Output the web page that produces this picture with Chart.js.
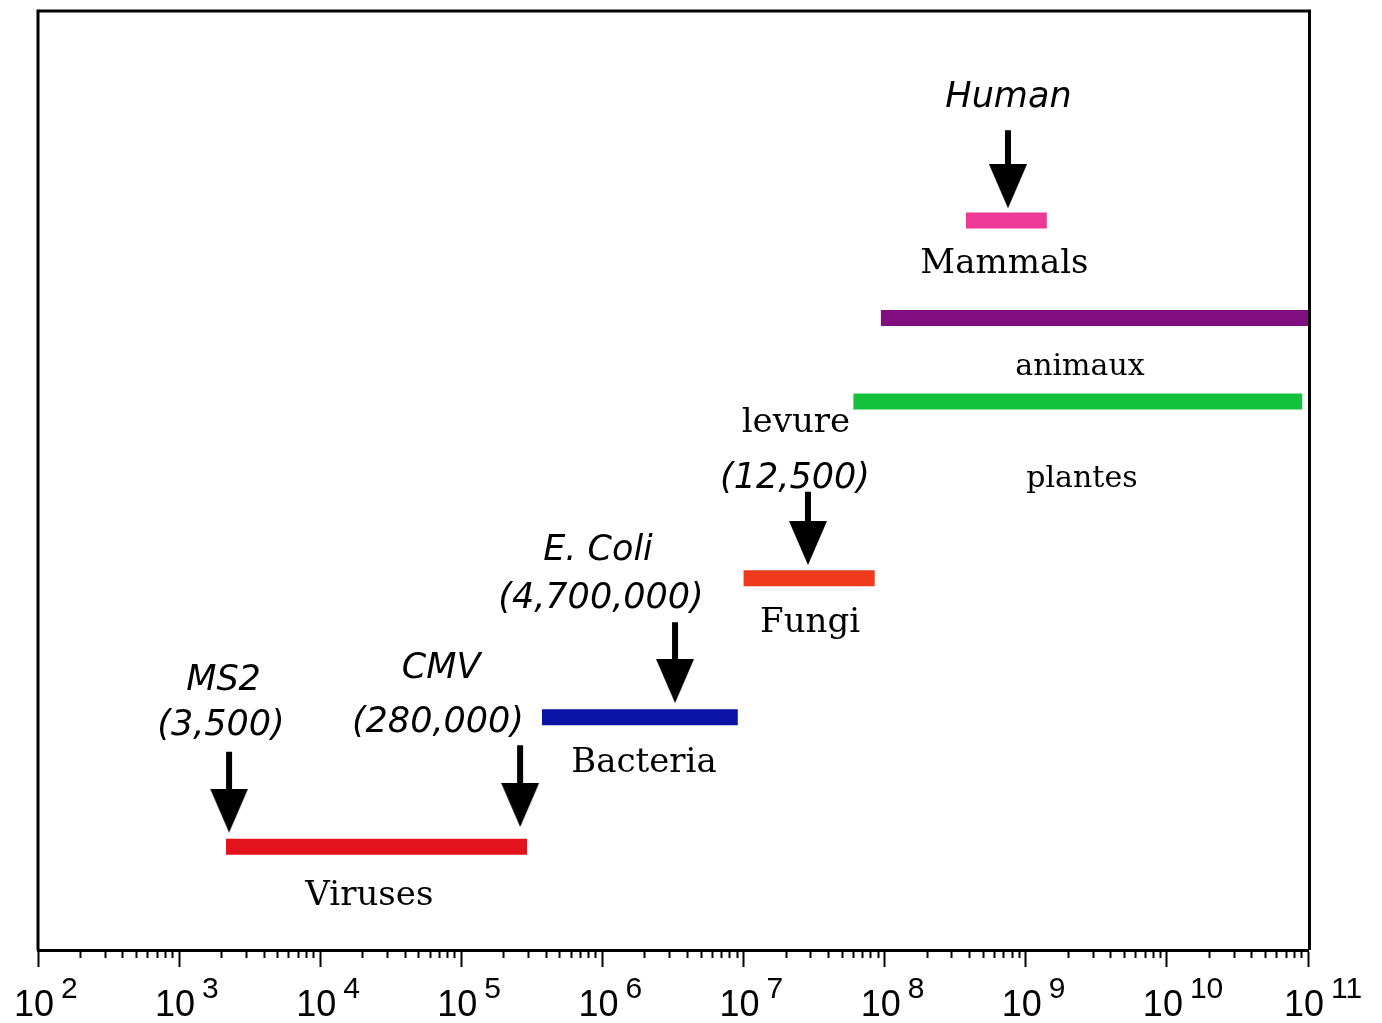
<!DOCTYPE html>
<html>
<head>
<meta charset="utf-8">
<script src="https://cdn.jsdelivr.net/npm/chart.js@4.4.1/dist/chart.umd.min.js"></script>
<style>
html,body{margin:0;padding:0;background:#ffffff;overflow:hidden}
#wrap{position:relative;width:1382px;height:1023px;background:#ffffff}
</style>
</head>
<body>
<div id="wrap"><canvas id="chart"></canvas></div>
<script>
// ---- data (genome size ranges, log scale) ----
const categories  = ['Viruses', 'Bacteria', 'Fungi', 'plantes', 'animaux', 'Mammals'];
const rangeStart  = [2150, 373000, 1.0e7, 6.0e7, 9.4e7, 3.77e8];
const rangeEnd    = [292000, 9.1e6, 8.5e7, 9.1e10, 1.0e11, 1.41e9];
const rowLevel    = [11.0, 24.8, 39.6, 58.4, 67.3, 77.7];
const barColors   = ['#e4121c', '#0b12a6', '#ef3a1e', '#14c13d', '#800e80', '#ee3a96'];

// arrows pointing at particular organisms
const arrowNames  = ['MS2', 'CMV', 'E. Coli', 'levure', 'Human'];
const arrowValue  = [2260, 261000, 3.27e6, 2.86e7, 7.48e8];
const arrowTop    = [21.1, 21.8, 34.9, 48.8, 87.3];
const arrowTip    = [12.5, 13.1, 26.3, 41.0, 79.0];

// text annotations
const labelTexts  = ['MS2', '(3,500)', 'CMV', '(280,000)', 'E. Coli', '(4,700,000)', 'levure', '(12,500)', 'Human',
                     'Viruses', 'Bacteria', 'Fungi', 'plantes', 'animaux', 'Mammals'];
const labelX      = [2064, 1981, 71800, 68300, 930000, 977000, 2.35e7, 2.315e7, 7.54e8,
                     22300, 1.97e6, 2.96e7, 2.5e9, 2.42e9, 7.06e8];
const labelY      = [27.7, 22.9, 29.0, 23.2, 41.5, 36.4, 55.2, 49.2, 89.8,
                     4.8, 19.0, 33.9, 49.3, 61.2, 72.1];
const labelKind   = ['organism', 'size', 'organism', 'size', 'organism', 'size', 'group', 'size', 'organism',
                     'group', 'group', 'group', 'kingdom', 'kingdom', 'group'];

// axis ticks
const decadeExponents = [2, 3, 4, 5, 6, 7, 8, 9, 10, 11];
const minorMultipliers = [2, 3, 4, 5, 6, 7, 8, 9];

// ---- styles ----
const kindFont = {
  organism: 'italic 35px "DejaVu Sans"',
  size: 'italic 35px "DejaVu Sans"',
  group: '34px "DejaVu Serif"',
  kingdom: '30px "DejaVu Serif"'
};
const BAR_WIDTH = 16;
const SHAFT_WIDTH = 6;
const SHAFT_STOP = 2.5;

const tickValues = [];
decadeExponents.forEach(function (e, i) {
  tickValues.push(Math.pow(10, e));
  if (i < decadeExponents.length - 1) {
    minorMultipliers.forEach(function (m) { tickValues.push(m * Math.pow(10, e)); });
  }
});
function isDecade(v) {
  const l = Math.log10(v);
  return Math.abs(l - Math.round(l)) < 1e-9;
}

// arrow head image used as point style (tip at image centre)
const head = document.createElement('canvas');
head.width = 38; head.height = 88;
(function () {
  const g = head.getContext('2d');
  g.fillStyle = '#000';
  g.beginPath();
  g.moveTo(0, 0); g.lineTo(38, 0); g.lineTo(19, 44); g.closePath();
  g.fill();
})();

const datasets = [];
categories.forEach(function (name, i) {
  datasets.push({
    label: name,
    data: [{x: rangeStart[i], y: rowLevel[i]}, {x: rangeEnd[i], y: rowLevel[i]}],
    showLine: true,
    borderColor: barColors[i],
    backgroundColor: barColors[i],
    borderWidth: BAR_WIDTH,
    borderCapStyle: 'butt',
    pointRadius: 0,
    pointHoverRadius: 0
  });
});
arrowNames.forEach(function (name, i) {
  datasets.push({
    label: name + ' arrow',
    data: [{x: arrowValue[i], y: arrowTop[i]}, {x: arrowValue[i], y: arrowTip[i] + SHAFT_STOP}],
    showLine: true,
    borderColor: '#000',
    borderWidth: SHAFT_WIDTH,
    borderCapStyle: 'butt',
    pointRadius: 0,
    pointHoverRadius: 0
  });
});
datasets.push({
  label: 'arrow heads',
  data: arrowValue.map(function (v, i) { return {x: v, y: arrowTip[i]}; }),
  showLine: false,
  pointStyle: head,
  pointRadius: 10,
  pointHoverRadius: 10
});

const framePlugin = {
  id: 'frame',
  afterDatasetsDraw: function (chart) {
    const a = chart.chartArea, ctx = chart.ctx;
    ctx.save();
    ctx.strokeStyle = '#000';
    ctx.lineWidth = 3;
    ctx.beginPath();
    ctx.moveTo(a.left, a.bottom);
    ctx.lineTo(a.left, a.top);
    ctx.lineTo(a.right + 1.5, a.top);
    ctx.lineTo(a.right + 1.5, a.bottom);
    ctx.stroke();
    ctx.restore();
  }
};

const textPlugin = {
  id: 'texts',
  afterDatasetsDraw: function (chart) {
    const ctx = chart.ctx, xs = chart.scales.x, ys = chart.scales.y;
    ctx.save();
    ctx.fillStyle = '#000';
    ctx.textAlign = 'center';
    ctx.textBaseline = 'alphabetic';
    labelTexts.forEach(function (t, i) {
      ctx.font = kindFont[labelKind[i]];
      ctx.fillText(t, xs.getPixelForValue(labelX[i]), ys.getPixelForValue(labelY[i]));
    });
    ctx.restore();
  }
};

const exponentPlugin = {
  id: 'exponents',
  afterDraw: function (chart) {
    const ctx = chart.ctx, xs = chart.scales.x;
    ctx.save();
    ctx.fillStyle = '#000';
    ctx.font = '30px "Liberation Sans"';
    ctx.textAlign = 'left';
    ctx.textBaseline = 'alphabetic';
    decadeExponents.forEach(function (e) {
      ctx.fillText(String(e), xs.getPixelForValue(Math.pow(10, e)) + 23, xs.top + 48);
    });
    ctx.restore();
  }
};

new Chart(document.getElementById('chart'), {
  type: 'scatter',
  data: {datasets: datasets},
  options: {
    responsive: true,
    maintainAspectRatio: false,
    animation: false,
    events: [],
    layout: {padding: {left: 38, right: 74, top: 11, bottom: 0}},
    plugins: {legend: {display: false}, tooltip: {enabled: false}},
    scales: {
      x: {
        type: 'logarithmic',
        min: 100,
        max: 1e11,
        afterBuildTicks: function (axis) {
          axis.ticks = tickValues.map(function (v) { return {value: v, major: isDecade(v)}; });
        },
        afterFit: function (scale) { scale.height = 73; },
        border: {display: true, color: '#000', width: 3},
        grid: {
          display: true,
          drawOnChartArea: false,
          drawTicks: true,
          tickLength: 17,
          tickWidth: 2,
          tickColor: '#000',
          tickBorderDash: function (ctx) {
            return (ctx.tick && isDecade(ctx.tick.value)) ? [] : [6, 40];
          }
        },
        ticks: {
          autoSkip: false,
          maxRotation: 0,
          minRotation: 0,
          padding: 17,
          labelOffset: -4,
          color: '#000',
          font: {family: 'Liberation Sans', size: 36, lineHeight: 1.2},
          callback: function (value) { return isDecade(value) ? '10' : ''; }
        }
      },
      y: {
        type: 'linear',
        display: false,
        min: 0,
        max: 100
      }
    }
  },
  plugins: [framePlugin, textPlugin, exponentPlugin]
});
</script>
</body>
</html>
